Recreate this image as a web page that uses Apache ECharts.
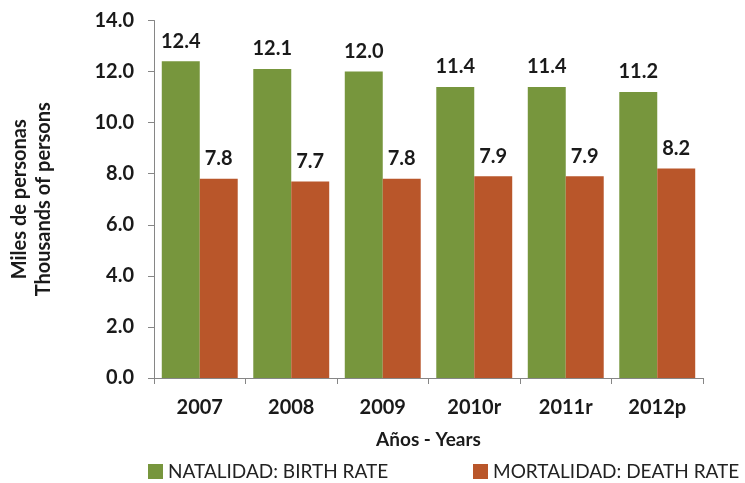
<!DOCTYPE html>
<html>
<head>
<meta charset="utf-8">
<script src="https://cdn.jsdelivr.net/npm/echarts@6/dist/echarts.min.js"></script>
<style>
  html, body { margin: 0; padding: 0; background: #fff; }
  #chart { width: 745px; height: 483px; }
</style>
</head>
<body>
<div id="chart"></div>
<script>
// ==============================
// 데이터
// ==============================
const years = ['2007', '2008', '2009', '2010r', '2011r', '2012p'];
const birthRate = [12.4, 12.1, 12.0, 11.4, 11.4, 11.2];
const deathRate = [7.8, 7.7, 7.8, 7.9, 7.9, 8.2];
const seriesNames = ['NATALIDAD: BIRTH RATE', 'MORTALIDAD: DEATH RATE'];
const colors = ['#77963D', '#B9562A'];

const FONT = 'Lato, "Open Sans", sans-serif';

const chart = echarts.init(document.getElementById('chart'));

const labelStyle = {
  show: true,
  position: 'top',
  distance: 10,
  color: '#1a1a1a',
  fontSize: 20,
  fontWeight: 'bold',
  fontFamily: FONT,
  formatter: p => p.value.toFixed(1)
};

const legendText = { color: '#222', fontSize: 19, fontFamily: FONT };

chart.setOption({
  animation: false,
  grid: { left: 154, right: 42, top: 20.5, bottom: 105, outerBoundsMode: 'none' },
  legend: [
    {
      data: [seriesNames[0]],
      left: 143, top: 457, itemGap: 0,
      icon: 'rect', itemWidth: 15, itemHeight: 15,
      textStyle: legendText
    },
    {
      data: [seriesNames[1]],
      left: 468, top: 457,
      icon: 'rect', itemWidth: 15, itemHeight: 15,
      textStyle: legendText
    }
  ],
  xAxis: {
    type: 'category',
    data: years,
    name: 'Años - Years',
    nameLocation: 'middle',
    nameGap: 52,
    nameTextStyle: { color: '#1a1a1a', fontSize: 19, fontWeight: 'bold', fontFamily: FONT },
    axisLine: { lineStyle: { color: '#868686' } },
    axisTick: { show: true, length: 6, lineStyle: { color: '#868686' } },
    axisLabel: { color: '#1a1a1a', fontSize: 20, fontWeight: 'bold', fontFamily: FONT, margin: 20 }
  },
  yAxis: {
    type: 'value',
    min: 0, max: 14, interval: 2,
    name: 'Miles de personas\nThousands of persons',
    nameLocation: 'middle',
    nameGap: 98,
    nameRotate: 90,
    nameTextStyle: { color: '#1a1a1a', fontSize: 20, fontWeight: 'bold', fontFamily: FONT, lineHeight: 24 },
    axisLine: { show: true, lineStyle: { color: '#868686' } },
    axisTick: { show: true, length: 6, lineStyle: { color: '#868686' } },
    splitLine: { show: false },
    axisLabel: { color: '#1a1a1a', fontSize: 20, fontWeight: 'bold', fontFamily: FONT, margin: 20, formatter: v => v.toFixed(1) }
  },
  series: [
    {
      name: seriesNames[0], type: 'bar', data: birthRate,
      barGap: '0%', barCategoryGap: '17%',
      itemStyle: { color: colors[0] },
      label: labelStyle
    },
    {
      name: seriesNames[1], type: 'bar', data: deathRate,
      itemStyle: { color: colors[1] },
      label: labelStyle
    }
  ]
});
</script>
</body>
</html>
